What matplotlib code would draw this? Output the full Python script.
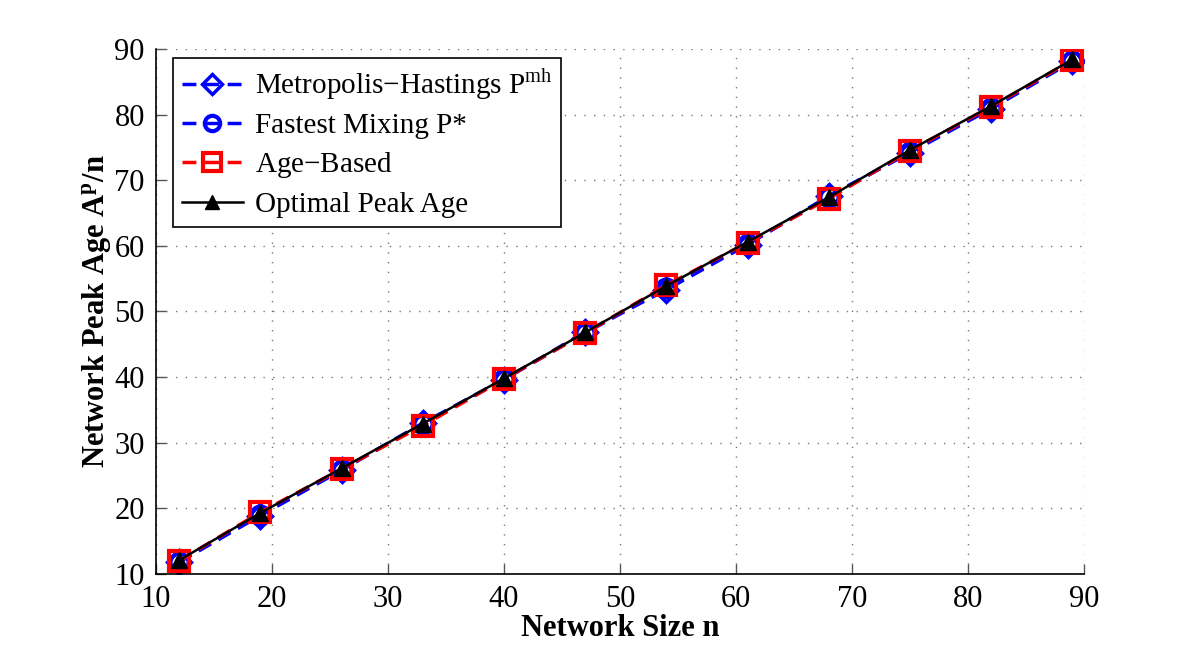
import matplotlib
matplotlib.use("Agg")
import matplotlib.pyplot as plt

n = [12, 19, 26, 33, 40, 47, 54, 61, 68, 75, 82, 89]
metropolis = [11.8, 18.9, 25.8, 33.0, 39.6, 46.9, 53.3, 60.2, 67.6, 74.2, 80.9, 88.1]
fastest = [11.9, 19.0, 25.9, 32.9, 39.7, 46.7, 53.5, 60.3, 67.4, 74.3, 81.0, 88.2]
age_based = [12.0, 19.4, 26.0, 32.6, 39.7, 46.7, 54.0, 60.5, 67.2, 74.5, 81.2, 88.3]
optimal = [12.1, 19.3, 26.1, 32.9, 39.8, 46.8, 53.9, 60.6, 67.4, 74.6, 81.3, 88.4]

xticks = [10, 20, 30, 40, 50, 60, 70, 80, 90]
yticks = [10, 20, 30, 40, 50, 60, 70, 80, 90]

plt.rcParams['font.family'] = ['Liberation Serif', 'DejaVu Serif']
plt.rcParams['mathtext.fontset'] = 'custom'
plt.rcParams['mathtext.rm'] = 'Liberation Serif'
plt.rcParams['mathtext.bf'] = 'Liberation Serif:bold'

fig = plt.figure(figsize=(11.98, 6.46), dpi=100)
ax = fig.add_axes([0.1302, 0.1115, 0.7746, 0.8127])

dash = (0, (4, 2.5))
ax.plot(n, metropolis, linestyle=dash, color='#0000ff', lw=2.5, marker='D',
        markersize=12, markerfacecolor='none', markeredgecolor='#0000ff', markeredgewidth=2.5,
        label='Metropolis$-$Hastings P$^{\\mathrm{mh}}$')
ax.plot(n, fastest, linestyle=dash, color='#0000ff', lw=2.5, marker='o',
        markersize=13, markerfacecolor='none', markeredgecolor='#0000ff', markeredgewidth=3,
        label='Fastest Mixing P*')
ax.plot(n, age_based, linestyle=dash, color='#ff0000', lw=2.5, marker='s',
        markersize=15, markerfacecolor='none', markeredgecolor='#ff0000', markeredgewidth=3,
        label='Age$-$Based')
ax.plot(n, optimal, linestyle='-', color='black', lw=1.8, marker='^',
        markersize=12, markerfacecolor='black', markeredgecolor='black',
        label='Optimal Peak Age')

ax.set_xlim(10, 90)
ax.set_ylim(10, 90)
ax.set_xticks(xticks)
ax.set_yticks(yticks)
ax.tick_params(direction='in', labelsize=22, length=7, width=1, pad=8, color='#555555')
ax.grid(True, linestyle=(0, (1, 6)), color='#777777', lw=1.0)
ax.spines['top'].set_visible(False)
ax.spines['right'].set_visible(False)
for s in ['left', 'bottom']:
    ax.spines[s].set_linewidth(1.2)

ax.set_xlabel('Network Size n', fontsize=22, fontweight='bold', labelpad=0)
ax.set_ylabel('Network Peak Age A$^{\\mathbf{p}}$/n', fontsize=22, fontweight='bold', labelpad=0)

leg = ax.legend(loc='upper left', fontsize=21, frameon=True, fancybox=False, edgecolor='black',
                framealpha=1, markerscale=0.85, handlelength=2.1, borderpad=0.3,
                labelspacing=0.38, handletextpad=0.4, borderaxespad=0,
                bbox_to_anchor=(0.0183, 0.983))
leg.get_frame().set_linewidth(1.2)

fig.savefig('out.png', dpi=100)
